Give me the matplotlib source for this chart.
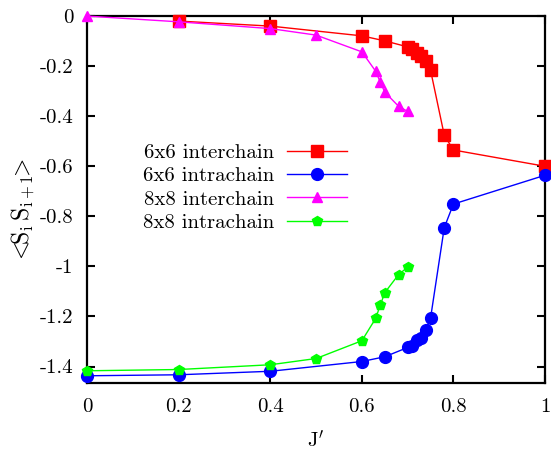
#!/usr/bin/env python3
# -*- coding: UTF-8 -*-
"""
Nearest-neighbour spin correlation versus J'.
"""
import matplotlib
matplotlib.use('Agg')
from matplotlib import pyplot as plt

# 6x6 interchain
x_66_inter = [0.2, 0.4, 0.6, 0.65, 0.70, 0.71, 0.72, 0.73, 0.74, 0.75, 0.78, 0.8, 1.0]
y_66_inter = [-0.02, -0.04, -0.079, -0.099, -0.123, -0.132, -0.147, -0.16, -0.179, -0.216,
              -0.476, -0.535, -0.60]

# 6x6 intrachain
x_66_intra = [0.0, 0.2, 0.4, 0.6, 0.65, 0.70, 0.71, 0.72, 0.73, 0.74, 0.75, 0.78, 0.8, 1.0]
y_66_intra = [-1.437, -1.433, -1.419, -1.38, -1.361, -1.324, -1.317, -1.293, -1.285, -1.253,
              -1.207, -0.845, -0.751, -0.636]

# 8x8 interchain
x_88_inter = [0.0, 0.2, 0.4, 0.5, 0.6, 0.63, 0.64, 0.65, 0.68, 0.70]
y_88_inter = [0.0, -0.023, -0.05, -0.076, -0.143, -0.22, -0.263, -0.304, -0.36, -0.381]

# 8x8 intrachain
x_88_intra = [0.0, 0.2, 0.4, 0.5, 0.6, 0.63, 0.64, 0.65, 0.68, 0.70]
y_88_intra = [-1.417, -1.412, -1.393, -1.368, -1.297, -1.208, -1.156, -1.105, -1.033, -1.003]

x_ticks = [0, 0.2, 0.4, 0.6, 0.8, 1]
x_tick_labels = ['0', '0.2', '0.4', '0.6', '0.8', '1']
y_ticks = [0, -0.2, -0.4, -0.6, -0.8, -1.0, -1.2, -1.4]
y_tick_labels = ['0', '-0.2', '-0.4', '-0.6', '-0.8', '-1', '-1.2', '-1.4']

plt.rcParams['font.family'] = 'cmr10'
plt.rcParams['mathtext.fontset'] = 'cm'
plt.rcParams['axes.unicode_minus'] = False
plt.rcParams['font.size'] = 15

fig = plt.figure(figsize=(5.51, 4.53), dpi=100)
ax = fig.add_axes([0.1585, 0.155, 0.8305, 0.8095])

ax.plot(x_66_inter, y_66_inter, color='#ff0000', lw=1, marker='s', ms=8,
        label='6x6 interchain', clip_on=False, zorder=3)
ax.plot(x_66_intra, y_66_intra, color='#0000ff', lw=1, marker='o', ms=8.5,
        label='6x6 intrachain', clip_on=False, zorder=3)
ax.plot(x_88_inter, y_88_inter, color='#ff00ff', lw=1, marker='^', ms=7,
        label='8x8 interchain', clip_on=False, zorder=4)
ax.plot(x_88_intra, y_88_intra, color='#00ff00', lw=1, marker='p', ms=7.5,
        label='8x8 intrachain', clip_on=False, zorder=4)

ax.set_xlim(0, 1)
ax.set_ylim(-1.465, 0)
ax.set_xticks(x_ticks)
ax.set_xticklabels(x_tick_labels)
ax.set_yticks(y_ticks)
ax.set_yticklabels(y_tick_labels)
ax.tick_params(direction='in', length=6, width=1.5, top=True, right=True)
ax.tick_params(axis='x', pad=11)
ax.tick_params(axis='y', pad=10)
for spine in ax.spines.values():
    spine.set_linewidth(1.6)

ax.set_xlabel(r"J$'$", labelpad=10)
ax.set_ylabel(r'$<\!\!\mathrm{S_i\,S_{i+1}}\!\!>$', fontsize=17)
ax.yaxis.set_label_coords(-0.11, 0.47)

ax.legend(loc='center', bbox_to_anchor=(0.345, 0.532), frameon=False, markerfirst=False,
          handlelength=2.9, labelspacing=0.23, handletextpad=0.6)

fig.savefig('out.png', dpi=100)
